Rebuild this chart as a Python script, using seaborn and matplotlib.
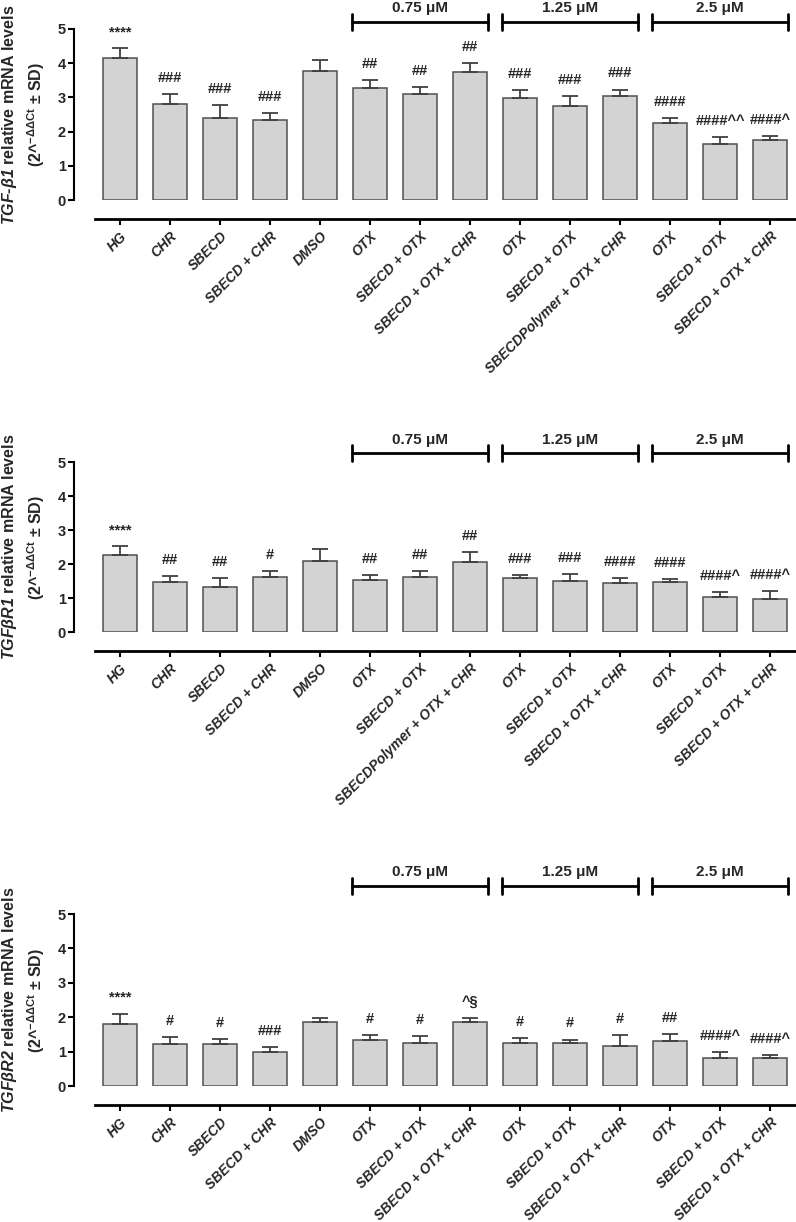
import numpy as np
import pandas as pd
import matplotlib
matplotlib.use("Agg")
import matplotlib.pyplot as plt
import seaborn as sns

# x labels (same groups in each panel, only the polymer bar moves)
labels_b1 = ["HG", "CHR", "SBECD", "SBECD + CHR", "DMSO",
             "OTX", "SBECD + OTX", "SBECD + OTX + CHR",
             "OTX", "SBECD + OTX", "SBECDPolymer + OTX + CHR",
             "OTX", "SBECD + OTX", "SBECD + OTX + CHR"]
labels_r1 = ["HG", "CHR", "SBECD", "SBECD + CHR", "DMSO",
             "OTX", "SBECD + OTX", "SBECDPolymer + OTX + CHR",
             "OTX", "SBECD + OTX", "SBECD + OTX + CHR",
             "OTX", "SBECD + OTX", "SBECD + OTX + CHR"]
labels_r2 = ["HG", "CHR", "SBECD", "SBECD + CHR", "DMSO",
             "OTX", "SBECD + OTX", "SBECD + OTX + CHR",
             "OTX", "SBECD + OTX", "SBECD + OTX + CHR",
             "OTX", "SBECD + OTX", "SBECD + OTX + CHR"]

# TGF-beta1
b1_mean = [4.15, 2.81, 2.40, 2.34, 3.77, 3.28, 3.10, 3.74, 2.98, 2.75, 3.03, 2.26, 1.64, 1.76]
b1_sd = [0.29, 0.29, 0.38, 0.21, 0.32, 0.22, 0.21, 0.26, 0.23, 0.30, 0.20, 0.13, 0.20, 0.12]
b1_sig = ["****", "###", "###", "###", "", "##", "##", "##",
          "###", "###", "###", "####", "####^^", "####^"]

# TGFbetaR1
r1_mean = [2.26, 1.47, 1.33, 1.62, 2.09, 1.53, 1.62, 2.06, 1.59, 1.49, 1.44, 1.47, 1.03, 0.98]
r1_sd = [0.27, 0.18, 0.27, 0.17, 0.36, 0.14, 0.17, 0.29, 0.09, 0.21, 0.14, 0.09, 0.14, 0.23]
r1_sig = ["****", "##", "##", "#", "", "##", "##", "##",
          "###", "###", "####", "####", "####^", "####^"]

# TGFbetaR2
r2_mean = [1.80, 1.23, 1.21, 0.98, 1.85, 1.33, 1.26, 1.85, 1.24, 1.24, 1.17, 1.30, 0.81, 0.81]
r2_sd = [0.30, 0.18, 0.16, 0.16, 0.14, 0.15, 0.20, 0.14, 0.16, 0.11, 0.32, 0.22, 0.18, 0.08]
r2_sig = ["****", "#", "#", "###", "", "#", "#", "^§",
          "#", "#", "#", "##", "####^", "####^"]

doses = ["0.75 μM", "1.25 μM", "2.5 μM"]
dose_first = [5, 8, 11]
dose_last = [7, 10, 13]

sns.set_theme(style="ticks")
plt.rcParams["font.family"] = ["Liberation Sans", "DejaVu Sans"]
plt.rcParams["font.weight"] = "bold"
plt.rcParams["mathtext.fontset"] = "custom"
plt.rcParams["mathtext.rm"] = "Liberation Sans:bold:italic"
plt.rcParams["mathtext.it"] = "Liberation Sans:bold:italic"
plt.rcParams["mathtext.bf"] = "Liberation Sans:bold"
plt.rcParams["mathtext.sf"] = "Liberation Sans"

W, H = 796, 1222
fig = plt.figure(figsize=(W / 100, H / 100), dpi=100)


def panel(top_px, zero_px, labels, mean, sd, sig, gene, bracket_y):
    ax = fig.add_axes([95 / W, 1 - zero_px / H, 700 / W, (zero_px - top_px) / H])
    df = pd.DataFrame({"pos": np.arange(len(mean)), "mean": mean})
    sns.barplot(data=df, x="pos", y="mean", color="#d3d3d3", saturation=1,
                edgecolor="#505050", linewidth=1.1, width=0.67,
                errorbar=None, ax=ax)
    ax.errorbar(df["pos"], mean, yerr=[np.zeros(len(sd)), sd], fmt="none",
                ecolor="#404040", elinewidth=1.3, capsize=6, capthick=1.3)
    for i, (m, s, t) in enumerate(zip(mean, sd, sig)):
        if t:
            ax.text(i, m + s + 0.47, t, ha="center", va="center",
                    fontsize=10.5, fontweight="bold")

    # offset spines first: moving a spine resets the tick objects
    sns.despine(ax=ax, offset={"left": 15, "bottom": 14})
    ax.spines["left"].set_bounds(0, 5)
    ax.spines["left"].set_linewidth(1.5)
    ax.spines["bottom"].set_linewidth(2)
    ax.spines["left"].set_color("black")
    ax.spines["bottom"].set_color("black")

    ax.set_xlim(-0.5, 13.5)
    ax.set_ylim(0, 5)
    ax.set_yticks(range(6))
    ax.set_yticklabels([str(v) for v in range(6)], fontweight="bold", fontsize=10.5)
    ax.set_xticks(range(len(labels)))
    ax.set_xticklabels(labels, rotation=45, ha="right", va="top",
                       rotation_mode="anchor", fontstyle="italic",
                       fontweight="bold", fontsize=10)
    ax.set_xlabel("")
    ax.set_ylabel("")
    ax.tick_params(axis="x", length=4, width=1.5, color="black", pad=3)
    ax.tick_params(axis="y", length=4, width=1.5, color="black", pad=2)

    # dose brackets
    for name, a, b in zip(doses, dose_first, dose_last):
        x0, x1 = a - 0.36, b + 0.36
        ax.plot([x0, x1], [bracket_y, bracket_y], color="black", lw=2, clip_on=False)
        for xe in (x0, x1):
            ax.plot([xe, xe], [bracket_y - 0.23, bracket_y + 0.23],
                    color="black", lw=2, clip_on=False)
        ax.text((x0 + x1) / 2, bracket_y + 0.4, name, ha="center", va="center",
                fontsize=11, fontweight="bold")

    yc = 1 - (top_px + zero_px) / 2 / H
    fig.text(10 / W, yc, gene + " relative mRNA levels", rotation=90,
             ha="center", va="center", fontsize=11.5, fontweight="bold")
    fig.text(36 / W, yc, r"(2^$^{\mathsf{-\Delta\Delta Ct}}$ ± SD)", rotation=90,
             ha="center", va="center", fontsize=11.5, fontweight="bold")
    return ax


panel(29, 200, labels_b1, b1_mean, b1_sd, b1_sig, r"$TGF$-$\beta1$", 5.2)
panel(462, 632, labels_r1, r1_mean, r1_sd, r1_sig, r"$TGF\beta R1$", 5.26)
panel(914, 1086, labels_r2, r2_mean, r2_sd, r2_sig, r"$TGF\beta R2$", 5.81)

fig.savefig("out.png", dpi=100)
